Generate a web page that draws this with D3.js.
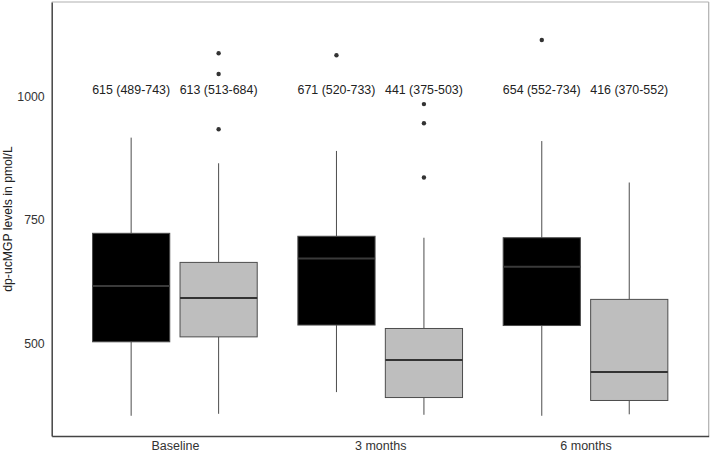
<!DOCTYPE html>
<html><head><meta charset="utf-8">
<script src="https://cdn.jsdelivr.net/npm/d3@7"></script>
<style>body{margin:0;background:#fff}svg{display:block}text{font-family:"Liberation Sans",Arial,sans-serif}</style>
</head><body>
<script>
const categories = ["Baseline", "3 months", "6 months"];
const groups = ["A", "B"];
// [whiskerLow, q1, median, q3, whiskerHigh] per category, group A (black) and B (gray)
const statsA = [[353, 503, 616, 723, 917], [401, 537, 672, 717, 890], [353, 536, 655, 714, 910]];
const statsB = [[357, 513, 592, 664, 865], [355, 390, 466, 530, 714], [356, 384, 442, 589, 826]];
const outliersA = [[], [1084], [1115]];
const outliersB = [[1088, 1046, 934], [985, 946, 836], []];
const labelsA = ["615 (489-743)", "671 (520-733)", "654 (552-734)"];
const labelsB = ["613 (513-684)", "441 (375-503)", "416 (370-552)"];
const yTicks = [500, 750, 1000];
const labelY = 1014;

const W = 711, H = 455;
const m = {l: 51.7, r: 2.3, t: 2, b: 19};
const svg = d3.select("body").append("svg").attr("width", W).attr("height", H);

const x = d3.scaleLinear().domain([-0.6, categories.length - 0.4]).range([m.l, W - m.r]);
const y = d3.scaleLinear().domain([312, 1192]).range([H - m.b, m.t]);
const off = 0.213, hw = 0.188;

const series = [
  {stats: statsA, out: outliersA, labels: labelsA, dx: -off, fill: "#000000", stroke: "#4a4a4a", med: "#3a3a3a"},
  {stats: statsB, out: outliersB, labels: labelsB, dx: off, fill: "#bebebe", stroke: "#4d4d4d", med: "#333333"}
];

series.forEach(s => {
  categories.forEach((c, i) => {
    const [lo, q1, md, q3, hi] = s.stats[i];
    const cx = x(i + s.dx), x0 = x(i + s.dx - hw), x1 = x(i + s.dx + hw);
    const g = svg.append("g");
    g.append("line").attr("x1", cx).attr("x2", cx).attr("y1", y(hi)).attr("y2", y(q3)).attr("stroke", "#4d4d4d").attr("stroke-width", 1);
    g.append("line").attr("x1", cx).attr("x2", cx).attr("y1", y(q1)).attr("y2", y(lo)).attr("stroke", "#4d4d4d").attr("stroke-width", 1);
    g.append("rect").attr("x", x0).attr("y", y(q3)).attr("width", x1 - x0).attr("height", y(q1) - y(q3))
      .attr("fill", s.fill).attr("stroke", s.stroke).attr("stroke-width", 1);
    g.append("line").attr("x1", x0).attr("x2", x1).attr("y1", y(md)).attr("y2", y(md)).attr("stroke", s.med).attr("stroke-width", 2);
    s.out[i].forEach(v => g.append("circle").attr("cx", cx).attr("cy", y(v)).attr("r", 2.2).attr("fill", "#333"));
    svg.append("text").attr("x", cx).attr("y", y(labelY)).attr("dy", "0.35em").attr("text-anchor", "middle")
      .style("font-size", "12.4px").attr("fill", "#222").text(s.labels[i]);
  });
});

// frame
svg.append("line").attr("x1", m.l).attr("x2", W - m.r).attr("y1", m.t).attr("y2", m.t).attr("stroke", "#b0b0b0").attr("stroke-width", 1.2);
svg.append("line").attr("x1", W - m.r).attr("x2", W - m.r).attr("y1", m.t).attr("y2", H - m.b).attr("stroke", "#b0b0b0").attr("stroke-width", 1.2);

const yAxis = svg.append("g").attr("transform", `translate(${m.l},0)`)
  .call(d3.axisLeft(y).tickValues(yTicks).tickFormat(d3.format("d")).tickSize(0).tickPadding(7));
yAxis.select(".domain").attr("stroke", "#444").attr("stroke-width", 1.5);
yAxis.selectAll("text").style("font-size", "12.3px").attr("fill", "#333").style("font-family", '"Liberation Sans",Arial,sans-serif');

const xAxis = svg.append("g").attr("transform", `translate(0,${H - m.b})`)
  .call(d3.axisBottom(x).tickValues(d3.range(categories.length)).tickFormat(i => categories[i]).tickSize(0).tickPadding(5));
xAxis.select(".domain").attr("stroke", "#444").attr("stroke-width", 1.5);
xAxis.selectAll("text").style("font-size", "12.5px").attr("fill", "#333").style("font-family", '"Liberation Sans",Arial,sans-serif');

svg.append("text").attr("transform", `translate(12,${(m.t + H - m.b) / 2}) rotate(-90)`)
  .attr("text-anchor", "middle").style("font-size", "12.2px").attr("fill", "#222")
  .text("dp-ucMGP levels in pmol/L");
</script>
</body></html>
